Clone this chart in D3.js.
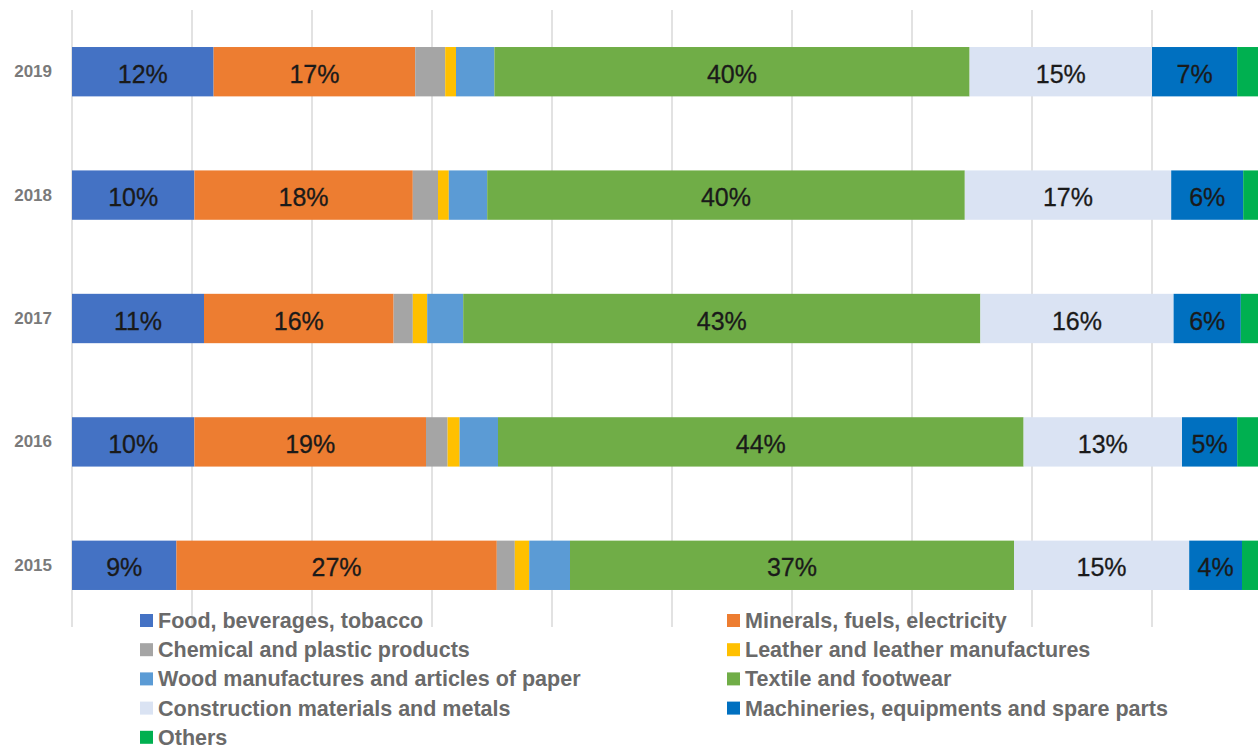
<!DOCTYPE html>
<html>
<head>
<meta charset="utf-8">
<script src="https://cdn.jsdelivr.net/npm/d3@7"></script>
<style>
  html, body { margin: 0; padding: 0; background: #ffffff; }
  svg { display: block; font-family: "Liberation Sans", Arial, sans-serif; }
</style>
</head>
<body>
<svg id="chart" width="1258" height="749"></svg>
<script>
// ---- Data (percent share of each category by year) ----
const years = ["2019", "2018", "2017", "2016", "2015"];
const seriesNames = [
  "Food, beverages, tobacco",
  "Minerals, fuels, electricity",
  "Chemical and plastic products",
  "Leather and leather manufactures",
  "Wood manufactures and articles of paper",
  "Textile and footwear",
  "Construction materials and metals",
  "Machineries, equipments and spare parts",
  "Others"
];
const food         = [11.8, 10.2, 11.0, 10.2,  8.7];
const minerals     = [16.8, 18.2, 15.8, 19.3, 26.7];
const chemical     = [ 2.5,  2.1,  1.6,  1.8,  1.5];
const leather      = [ 0.9,  0.9,  1.2,  1.0,  1.2];
const wood         = [ 3.2,  3.2,  3.0,  3.2,  3.4];
const textile      = [39.6, 39.8, 43.1, 43.8, 37.0];
const construction = [15.2, 17.2, 16.1, 13.2, 14.6];
const machinery    = [ 7.1,  6.0,  5.6,  4.6,  4.4];
const others       = [ 2.9,  2.4,  2.6,  2.9,  2.5];
const seriesValues = [food, minerals, chemical, leather, wood, textile, construction, machinery, others];
const colors = ["#4472C4", "#ED7D31", "#A5A5A5", "#FFC000", "#5B9BD5", "#70AD47", "#DAE3F3", "#0070C0", "#00B050"];
const xTicks = [0, 10, 20, 30, 40, 50, 60, 70, 80, 90, 100];

// ---- Build table ----
const table = years.map((y, i) => {
  const row = { year: y };
  seriesNames.forEach((s, k) => { row[s] = seriesValues[k][i]; });
  return row;
});
const stacked = d3.stack().keys(seriesNames)(table);

const svg = d3.select("#chart");
const x = d3.scaleLinear().domain([0, 100]).range([72, 1272]);
const y = d3.scaleBand().domain(years).range([10, 627]).paddingInner(0.6).paddingOuter(0.3);
const color = d3.scaleOrdinal().domain(seriesNames).range(colors);

// gridlines
svg.append("g").selectAll("line").data(xTicks).join("line")
  .attr("x1", d => x(d)).attr("x2", d => x(d))
  .attr("y1", 10).attr("y2", 627)
  .attr("stroke", "#D9D9D9").attr("stroke-width", 1.5);

// bars
const layers = svg.append("g").selectAll("g").data(stacked).join("g")
  .attr("fill", d => color(d.key));
layers.selectAll("rect").data(d => d).join("rect")
  .attr("x", d => x(d[0]))
  .attr("width", d => x(d[1]) - x(d[0]))
  .attr("y", d => y(d.data.year))
  .attr("height", y.bandwidth());

// data labels
const labelG = svg.append("g");
stacked.forEach(layer => {
  layer.forEach(d => {
    const v = d[1] - d[0];
    if (v >= 4) {
      labelG.append("text")
        .attr("x", (x(d[0]) + x(d[1])) / 2)
        .attr("y", y(d.data.year) + y.bandwidth() / 2 + 2)
        .attr("text-anchor", "middle")
        .attr("dominant-baseline", "central")
        .attr("font-size", 25)
        .attr("fill", "#1a1a1a")
        .attr("stroke", "#1a1a1a").attr("stroke-width", 0.3)
        .text(Math.round(v) + "%");
    }
  });
});

// year axis labels
svg.append("g").selectAll("text").data(years).join("text")
  .attr("x", 52)
  .attr("y", d => y(d) + y.bandwidth() / 2)
  .attr("text-anchor", "end")
  .attr("dominant-baseline", "central")
  .attr("font-size", 17)
  .attr("font-weight", "bold")
  .attr("fill", "#7a7a7a")
  .text(d => d);

// legend (2 columns, row-major)
const legend = svg.append("g");
seriesNames.forEach((s, i) => {
  const col = i % 2, row = Math.floor(i / 2);
  const mx = col === 0 ? 140 : 727;
  const cy = 621 + row * 29.2;
  legend.append("rect")
    .attr("x", mx).attr("y", cy - 7).attr("width", 13).attr("height", 13)
    .attr("fill", color(s));
  legend.append("text")
    .attr("x", mx + 18).attr("y", cy)
    .attr("dominant-baseline", "central")
    .attr("font-size", 21.5)
    .attr("font-weight", "bold")
    .attr("fill", "#6a6a6a")
    .text(s);
});
</script>
</body>
</html>
